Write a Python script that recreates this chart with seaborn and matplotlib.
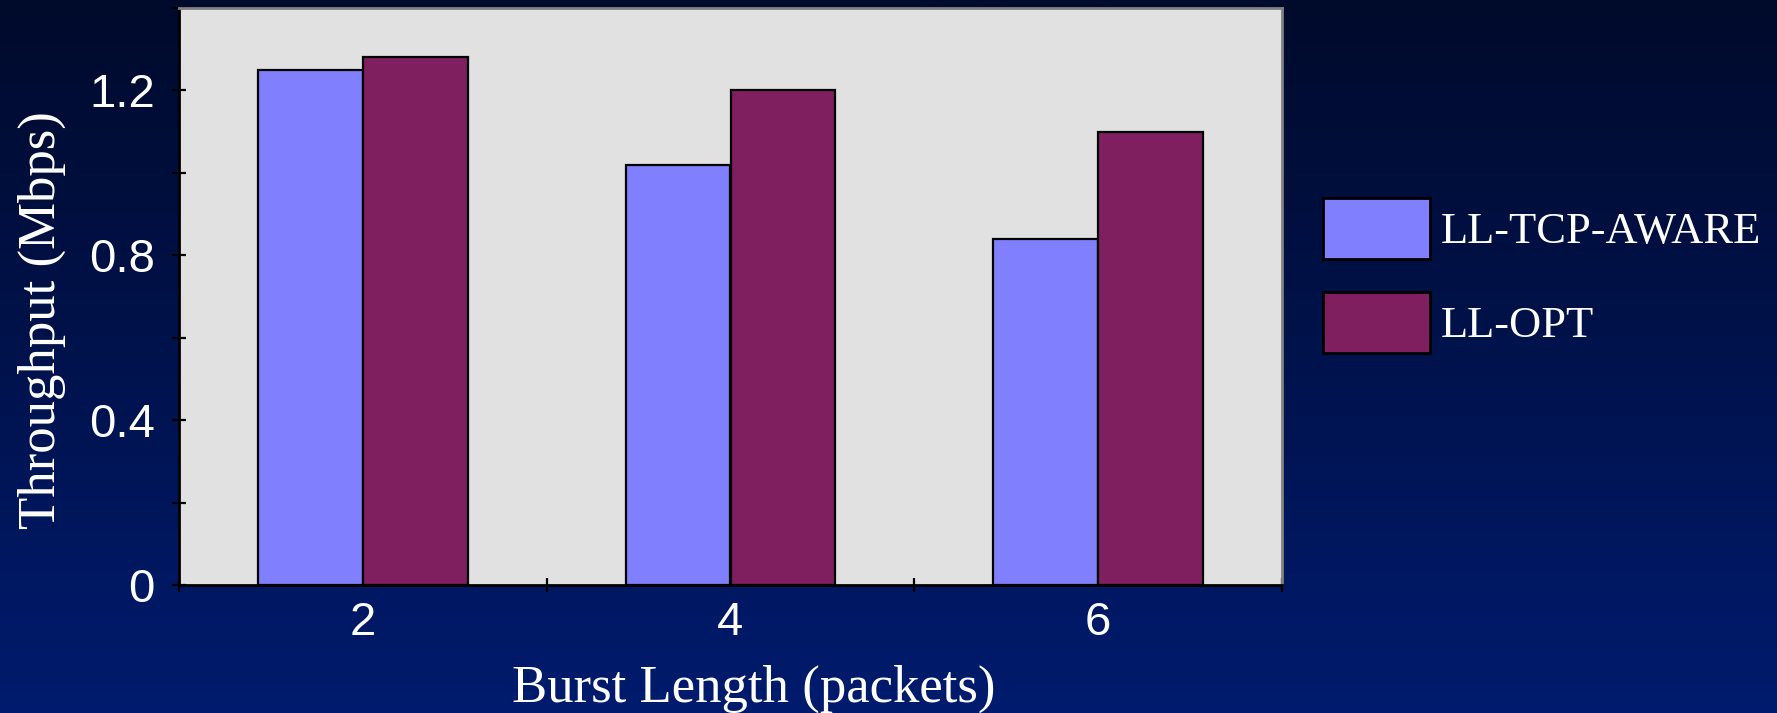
import numpy as np
import pandas as pd
import matplotlib
matplotlib.use("Agg")
import matplotlib.pyplot as plt
import matplotlib.patches as mpatches
import seaborn as sns

# Throughput measured for each burst length, per link-layer scheme
burst_lengths = ["2", "4", "6"]
ll_tcp_aware = [1.25, 1.02, 0.84]
ll_opt = [1.28, 1.20, 1.10]
schemes = ["LL-TCP-AWARE", "LL-OPT"]
y_ticks = [0.0, 0.2, 0.4, 0.6, 0.8, 1.0, 1.2, 1.4]
y_tick_labels = ["0", "", "0.4", "", "0.8", "", "1.2", ""]

colors = ["#8080FF", "#7F1F5F"]

df = pd.DataFrame({
    "burst": burst_lengths * 2,
    "throughput": ll_tcp_aware + ll_opt,
    "scheme": [schemes[0]] * 3 + [schemes[1]] * 3,
})

sns.set_theme(style="white")
plt.rcParams["font.family"] = ["Liberation Sans", "DejaVu Sans"]

fig = plt.figure(figsize=(17.77, 7.13), dpi=100)

# Dark navy vertical gradient behind everything
bg = fig.add_axes([0, 0, 1, 1], zorder=-10)
top = np.array([0, 10, 43]) / 255
bottom = np.array([0, 27, 110]) / 255
t = np.linspace(0, 1, 256)[:, None]
grad = top[None, :] * (1 - t) + bottom[None, :] * t
bg.imshow(grad[:, None, :], aspect="auto", extent=[0, 1, 0, 1])
bg.set_axis_off()

ax = fig.add_axes([179 / 1777, 1 - 585 / 713, 1103 / 1777, 577 / 713])
ax.set_facecolor("#E1E1E1")

sns.barplot(
    data=df, x="burst", y="throughput", hue="scheme",
    order=burst_lengths, hue_order=schemes, palette=colors,
    width=0.571, edgecolor="black", linewidth=1.6, saturation=1,
    legend=False, ax=ax,
)

ax.set_xlim(-0.5, 2.5)
ax.set_ylim(0, 1.4)

# Y axis: labelled every 0.4, unlabelled ticks in between
ax.set_yticks(y_ticks)
ax.set_yticklabels(y_tick_labels)
ax.tick_params(axis="y", which="major", direction="inout", length=10,
               width=1.6, color="black", pad=12.5, labelsize=34,
               labelcolor="white", left=True)

# X axis: labels at category centres, tick marks at category boundaries
ax.set_xticks(range(len(burst_lengths)))
ax.set_xticklabels(burst_lengths)
ax.set_xticks([-0.5, 0.5, 1.5, 2.5], minor=True)
ax.tick_params(axis="x", which="major", length=0, pad=11.5, labelsize=34,
               labelcolor="white")
ax.tick_params(axis="x", which="minor", direction="inout", length=10,
               width=1.6, color="black", bottom=True)

for side in ["left", "bottom"]:
    ax.spines[side].set_color("black")
    ax.spines[side].set_linewidth(2)
for side in ["top", "right"]:
    ax.spines[side].set_visible(True)
    ax.spines[side].set_color("#808080")
    ax.spines[side].set_linewidth(2)

ax.set_xlabel("")
ax.set_ylabel("")

fig.text(42 / 1777, 1 - 320 / 713, "Throughput (Mbps)", rotation=90,
         ha="center", va="center", color="white", fontsize=38,
         family=["Liberation Serif", "DejaVu Serif"])
fig.text(754 / 1777, 1 - 689 / 713, "Burst Length (packets)",
         ha="center", va="center", color="white", fontsize=38,
         family=["Liberation Serif", "DejaVu Serif"])

handles = [mpatches.Patch(facecolor=c, edgecolor="black", linewidth=2, label=s)
           for c, s in zip(colors, schemes)]
fig.legend(handles=handles, loc="upper left",
           bbox_to_anchor=(1323 / 1777, 1 - 198 / 713),
           frameon=False, borderpad=0, borderaxespad=0,
           handlelength=2.4, handleheight=1.73, handletextpad=0.24,
           labelspacing=0.74, labelcolor="white",
           prop={"family": "Liberation Serif", "size": 32})

fig.savefig("out.png", dpi=100)
